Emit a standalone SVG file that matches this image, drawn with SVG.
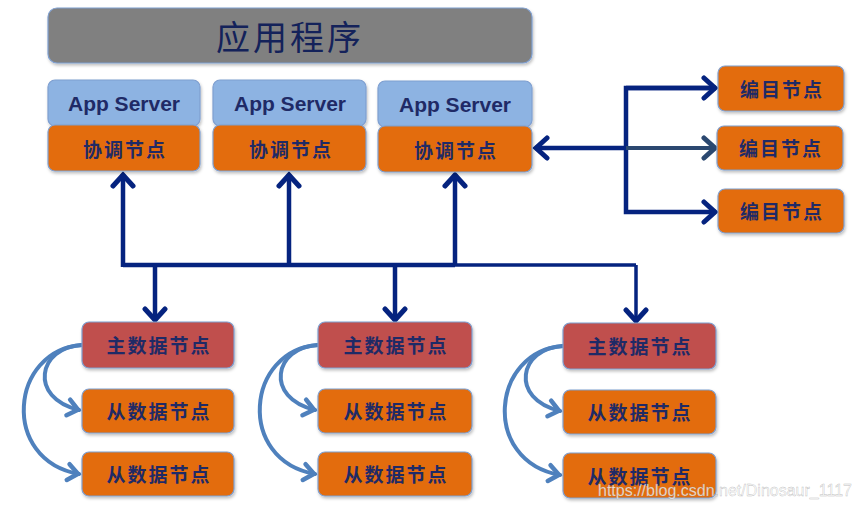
<svg xmlns="http://www.w3.org/2000/svg" width="863" height="508" viewBox="0 0 863 508">
<defs>
<style>
.box{stroke:#7f9fd0;stroke-width:1.2;filter:url(#sh)}
.title{fill:#808080}
.app{fill:#8db3e2}
.org{fill:#e36c09}
.red{fill:#c0504d}
.t{font-family:"Noto Sans CJK SC","Noto Sans",sans-serif;font-weight:bold;font-size:19px;fill:#1f2a66;text-anchor:middle;letter-spacing:2px}
.en{font-family:"Liberation Sans",Arial,sans-serif;font-weight:bold;font-size:21px;fill:#1f2a66;text-anchor:middle}
.nv{fill:none;stroke:#05237f;stroke-width:4.5;stroke-linejoin:miter}
.bl{fill:none;stroke:#4f81bd;stroke-width:4;stroke-linecap:round}
</style>
<filter id="sh" x="-10%" y="-10%" width="120%" height="130%">
<feDropShadow dx="1" dy="2" stdDeviation="1.5" flood-color="#000" flood-opacity="0.25"/>
</filter>
<marker id="an" markerUnits="userSpaceOnUse" markerWidth="30" markerHeight="30" viewBox="-15 -15 30 30" refX="0" refY="0" orient="auto">
<path d="M-12,-10 L-1,0 L-12,10" fill="none" stroke="#05237f" stroke-width="5" stroke-linecap="round" stroke-linejoin="miter"/>
</marker>
<marker id="ad" markerUnits="userSpaceOnUse" markerWidth="30" markerHeight="30" viewBox="-15 -15 30 30" refX="0" refY="0" orient="auto">
<path d="M-12,-10 L-1,0 L-12,10" fill="none" stroke="#2b4870" stroke-width="5" stroke-linecap="round"/>
</marker>
<marker id="ab" markerUnits="userSpaceOnUse" markerWidth="30" markerHeight="30" viewBox="-15 -15 30 30" refX="0" refY="0" orient="auto">
<path d="M-11,-8 L-1,0 L-11,8" fill="none" stroke="#4f81bd" stroke-width="4.5" stroke-linecap="round"/>
</marker>
</defs>
<rect width="863" height="508" fill="#ffffff"/>

<g id="connectors">
<path class="nv" d="M123,265 H455"/>
<path class="nv" d="M455,265 H636" style="stroke-width:3.5"/>
<path class="nv" d="M123,267 V174" marker-end="url(#an)"/>
<path class="nv" d="M289,265 V174" marker-end="url(#an)"/>
<path class="nv" d="M455,265 V174" marker-end="url(#an)"/>
<path class="nv" d="M155,265 V321" marker-end="url(#an)"/>
<path class="nv" d="M395,265 V321" marker-end="url(#an)"/>
<path class="nv" d="M636,265 V322" style="stroke-width:3.5" marker-end="url(#an)"/>
<path class="nv" d="M626,148 H535" marker-end="url(#an)"/>
<path class="nv" d="M716,88 H626 V212 H716" marker-end="url(#an)"/>
<path class="nv" d="M626,88 H716" marker-end="url(#an)"/>
<path class="nv" d="M626,148 H716" style="stroke:#2b4870;stroke-width:4" marker-end="url(#ad)"/>
<path class="bl" d="M82,345 C38,347 28,398 79,410" marker-end="url(#ab)"/>
<path class="bl" d="M82,345 C10,350 0,460 79,474" marker-end="url(#ab)"/>
<path class="bl" d="M318,345 C274,347 264,398 315,410" marker-end="url(#ab)"/>
<path class="bl" d="M318,345 C246,350 236,460 315,474" marker-end="url(#ab)"/>
<path class="bl" d="M563,346 C519,348 509,399 560,411" marker-end="url(#ab)"/>
<path class="bl" d="M563,346 C491,351 481,461 560,475" marker-end="url(#ab)"/>
</g>

<g id="app">
<rect class="box title" x="48" y="8" width="484" height="55" rx="9"/>
<text x="290" y="50" style="font-family:'Noto Sans CJK SC',sans-serif;font-size:34px;fill:#14225a;text-anchor:middle;letter-spacing:3px">应用程序</text>
</g>

<g id="as1"><rect class="box app" x="48" y="80" width="152" height="46" rx="7"/><text class="en" x="124" y="111">App Server</text></g>
<g id="as2"><rect class="box app" x="213" y="80" width="153" height="46" rx="7"/><text class="en" x="290" y="111">App Server</text></g>
<g id="as3"><rect class="box app" x="378" y="81" width="154" height="46" rx="7"/><text class="en" x="455" y="112">App Server</text></g>

<g id="co1"><rect class="box org" x="48" y="125" width="152" height="46" rx="7"/><text class="t" x="125" y="157">协调节点</text></g>
<g id="co2"><rect class="box org" x="213" y="125" width="153" height="46" rx="7"/><text class="t" x="291" y="157">协调节点</text></g>
<g id="co3"><rect class="box org" x="378" y="126" width="154" height="46" rx="7"/><text class="t" x="456" y="158">协调节点</text></g>

<g id="cat1"><rect class="box org" x="718" y="66" width="126" height="45" rx="7"/><text class="t" x="782" y="97">编目节点</text></g>
<g id="cat2"><rect class="box org" x="717" y="126" width="126" height="44" rx="7"/><text class="t" x="781" y="156">编目节点</text></g>
<g id="cat3"><rect class="box org" x="718" y="189" width="126" height="44" rx="7"/><text class="t" x="782" y="219">编目节点</text></g>

<g id="m1"><rect class="box red" x="82" y="322" width="152" height="46" rx="7"/><text class="t" x="159" y="353">主数据节点</text></g>
<g id="s11"><rect class="box org" x="82" y="389" width="152" height="44" rx="7"/><text class="t" x="159" y="419">从数据节点</text></g>
<g id="s12"><rect class="box org" x="82" y="452" width="152" height="44" rx="7"/><text class="t" x="159" y="482">从数据节点</text></g>

<g id="m2"><rect class="box red" x="318" y="322" width="154" height="46" rx="7"/><text class="t" x="396" y="353">主数据节点</text></g>
<g id="s21"><rect class="box org" x="318" y="389" width="154" height="44" rx="7"/><text class="t" x="396" y="419">从数据节点</text></g>
<g id="s22"><rect class="box org" x="318" y="452" width="154" height="44" rx="7"/><text class="t" x="396" y="482">从数据节点</text></g>

<g id="m3"><rect class="box red" x="563" y="323" width="153" height="46" rx="7"/><text class="t" x="640" y="354">主数据节点</text></g>
<g id="s31"><rect class="box org" x="563" y="390" width="153" height="44" rx="7"/><text class="t" x="640" y="420">从数据节点</text></g>
<g id="s32"><rect class="box org" x="563" y="453" width="153" height="45" rx="7"/><text class="t" x="640" y="484">从数据节点</text></g>

<text x="598" y="496" textLength="254" lengthAdjust="spacingAndGlyphs" style="font-family:'Liberation Sans',Arial,sans-serif;font-size:16px;fill:#ffffff;fill-opacity:0.8;stroke:#8a8a8a;stroke-width:0.4;stroke-opacity:0.6">https://blog.csdn.net/Dinosaur_1117</text>
</svg>
